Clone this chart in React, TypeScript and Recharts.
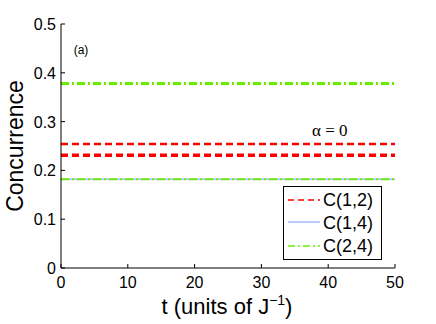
import React from 'react';
import { LineChart, Line, XAxis, YAxis } from 'recharts';

// time axis (units of 1/J)
const tValues = [0, 10, 20, 30, 40, 50];
// concurrence values, constant in time for alpha = 0
const c12Upper = [0.254, 0.254, 0.254, 0.254, 0.254, 0.254];
const c12Lower = [0.231, 0.231, 0.231, 0.231, 0.231, 0.231];
const c14 = [0.182, 0.182, 0.182, 0.182, 0.182, 0.182];
const c24Lower = [0.182, 0.182, 0.182, 0.182, 0.182, 0.182];
const c24Upper = [0.378, 0.378, 0.378, 0.378, 0.378, 0.378];

const xTicks = [0, 10, 20, 30, 40, 50];
const yTicks = [0, 0.1, 0.2, 0.3, 0.4, 0.5];
const yTickLabels = ['0', '0.1', '0.2', '0.3', '0.4', '0.5'];

const legendNames = ['C(1,2)', 'C(1,4)', 'C(2,4)'];

const data = tValues.map((t, i) => ({
  t,
  c12a: c12Upper[i],
  c12b: c12Lower[i],
  c14: c14[i],
  c24a: c24Lower[i],
  c24b: c24Upper[i],
}));

const FONT = '"Liberation Sans", Arial, Helvetica, sans-serif';
const RED = '#ff0000';
const BLUE = '#7b93ff';
const GREEN = '#66ee00';

const LeftTick = (props: any) => {
  const { x, y, payload } = props;
  const idx = yTicks.indexOf(payload.value);
  return (
    <g>
      <line x1={x} x2={x + 4} y1={y} y2={y} stroke="#000" />
      <text x={x - 5} y={y + 6} textAnchor="end" fontSize={16} fontFamily={FONT} fill="#000">
        {idx >= 0 ? yTickLabels[idx] : payload.value}
      </text>
    </g>
  );
};

const RightTick = (props: any) => {
  const { x, y } = props;
  return <line x1={x - 4} x2={x} y1={y} y2={y} stroke="#888" />;
};

const BottomTick = (props: any) => {
  const { x, y, payload } = props;
  return (
    <g>
      <line x1={x} x2={x} y1={y} y2={y - 4} stroke="#000" />
      <text x={x} y={y + 20} textAnchor="middle" fontSize={16} fontFamily={FONT} fill="#000">
        {payload.value}
      </text>
    </g>
  );
};

const TopTick = (props: any) => {
  const { x, y } = props;
  return <line x1={x} x2={x} y1={y} y2={y + 4} stroke="#888" />;
};

export default function App() {
  return (
    <div style={{ position: 'absolute', left: 0, top: 0, width: 436, height: 324, background: '#fff' }}>
      <LineChart
        width={436}
        height={324}
        data={data}
        margin={{ top: 24, right: 41, left: 0, bottom: 0 }}
      >
        <XAxis
          dataKey="t"
          type="number"
          domain={[0, 50]}
          ticks={xTicks}
          height={56}
          tickLine={false}
          tickSize={0}
          tickMargin={0}
          axisLine={{ stroke: '#000' }}
          tick={<BottomTick />}
        />
        <XAxis
          xAxisId="top"
          orientation="top"
          dataKey="t"
          type="number"
          domain={[0, 50]}
          ticks={xTicks}
          height={0}
          tickLine={false}
          tickSize={0}
          tickMargin={0}
          axisLine={{ stroke: '#888' }}
          tick={<TopTick />}
        />
        <YAxis
          type="number"
          domain={[0, 0.5]}
          ticks={yTicks}
          width={61}
          tickLine={false}
          tickSize={0}
          tickMargin={0}
          axisLine={{ stroke: '#000' }}
          tick={<LeftTick />}
        />
        <YAxis
          yAxisId="right"
          orientation="right"
          type="number"
          domain={[0, 0.5]}
          ticks={yTicks}
          width={0}
          tickLine={false}
          tickSize={0}
          tickMargin={0}
          axisLine={{ stroke: '#888' }}
          tick={<RightTick />}
        />
        <Line dataKey="c14" stroke={BLUE} strokeWidth={1} dot={false} isAnimationActive={false} />
        <Line dataKey="c24a" stroke={GREEN} strokeWidth={2} strokeDasharray="8 3 2 3" dot={false} isAnimationActive={false} />
        <Line dataKey="c12a" stroke={RED} strokeWidth={2.5} strokeDasharray="7 4" dot={false} isAnimationActive={false} />
        <Line dataKey="c12b" stroke={RED} strokeWidth={3.5} strokeDasharray="7 4" dot={false} isAnimationActive={false} />
        <Line dataKey="c24b" stroke={GREEN} strokeWidth={3} strokeDasharray="8 3 2 3" dot={false} isAnimationActive={false} />
      </LineChart>
      <svg
        width={436}
        height={324}
        style={{ position: 'absolute', left: 0, top: 0, pointerEvents: 'none' }}
      >
        <text x={81} y={54} textAnchor="middle" fontSize={12} fontFamily={FONT}>(a)</text>
        <text x={312} y={136} fontSize={17} fontFamily='"Liberation Serif", "Times New Roman", serif'>α = 0</text>
        <text
          transform="translate(23,146) rotate(-90)"
          textAnchor="middle"
          fontSize={23}
          fontFamily={FONT}
        >
          Concurrence
        </text>
        <text x={227} y={314} textAnchor="middle" fontSize={22} fontFamily={FONT}>
          t (units of J<tspan dy={-9} fontSize={14}>−1</tspan><tspan dy={9}>)</tspan>
        </text>
        <rect x={283.5} y={186.5} width={98} height={73} fill="#fff" stroke="#000" />
        <line x1={288} x2={320} y1={200} y2={200} stroke={RED} strokeWidth={1.5} strokeDasharray="6 4" />
        <line x1={288} x2={320} y1={222} y2={222} stroke={BLUE} strokeWidth={1} />
        <line x1={288} x2={320} y1={246} y2={246} stroke={GREEN} strokeWidth={1.5} strokeDasharray="7 3 2 3" />
        {legendNames.map((name, i) => (
          <text key={name} x={323} y={206 + i * 23} fontSize={18} fontFamily={FONT}>{name}</text>
        ))}
      </svg>
    </div>
  );
}
